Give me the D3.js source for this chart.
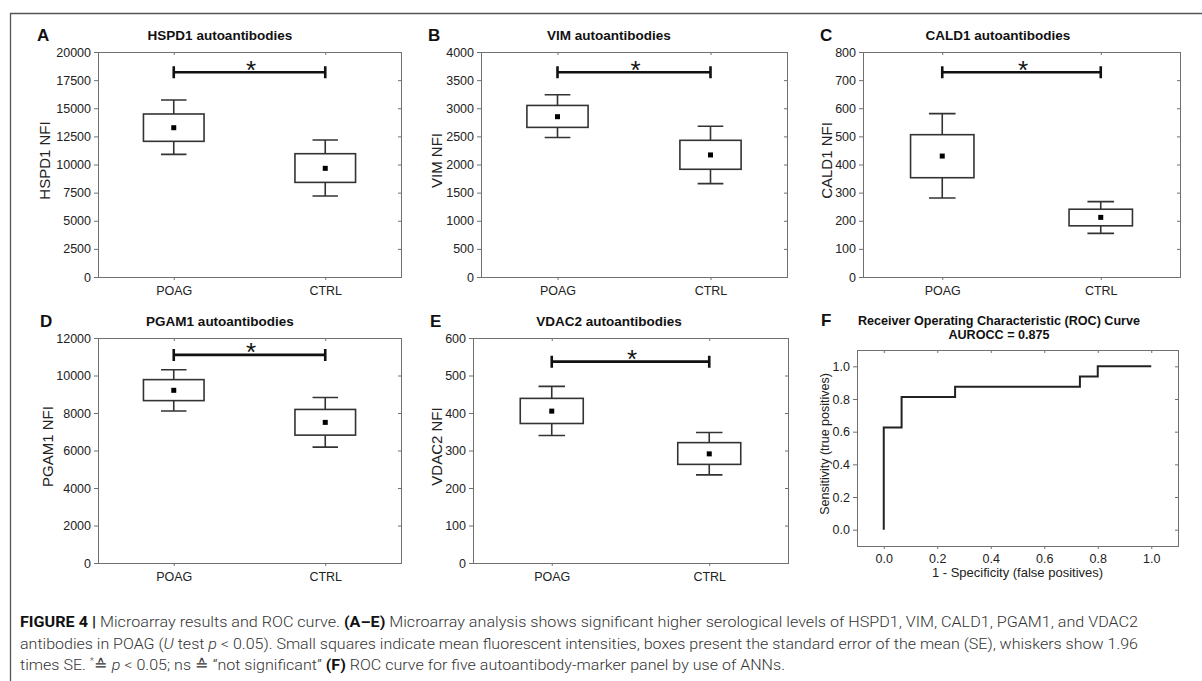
<!DOCTYPE html>
<html>
<head>
<meta charset="utf-8">
<title>Figure 4</title>
<script src="https://d3js.org/d3.v7.min.js"></script>
<style>
  body { margin: 0; background: #fff; }
  svg { display: block; font-family: "Liberation Sans", Arial, sans-serif; }
</style>
</head>
<body>
<svg width="1202" height="681"></svg>
<script>

const groups = ['POAG', 'CTRL'];

// each row: [whisker low, box low, mean, box high, whisker high]
const hspd1Poag = [10900, 12060, 13270, 14490, 15730];
const hspd1Ctrl = [7200, 8410, 9660, 10960, 12180];
const vimPoag = [2480, 2660, 2850, 3050, 3240];
const vimCtrl = [1660, 1915, 2170, 2430, 2680];
const cald1Poag = [281, 353, 430, 506, 581];
const cald1Ctrl = [155, 182, 212, 241, 268];
const pgam1Poag = [8110, 8660, 9210, 9780, 10310];
const pgam1Ctrl = [6180, 6820, 7500, 8190, 8830];
const vdac2Poag = [340, 372, 405, 439, 471];
const vdac2Ctrl = [235, 263, 291, 321, 348];

// height of the significance bar in each panel
const sigLevels = [18200, 3640, 728, 11100, 537];

const hspd1Ticks = [0, 2500, 5000, 7500, 10000, 12500, 15000, 17500, 20000];
const vimTicks = [0, 500, 1000, 1500, 2000, 2500, 3000, 3500, 4000];
const cald1Ticks = [0, 100, 200, 300, 400, 500, 600, 700, 800];
const pgam1Ticks = [0, 2000, 4000, 6000, 8000, 10000, 12000];
const vdac2Ticks = [0, 100, 200, 300, 400, 500, 600];

// ROC curve corners (step after)
const rocFpr = [0, 0, 0.0667, 0.2667, 0.7333, 0.8, 1.0];
const rocTpr = [0, 0.625, 0.8125, 0.875, 0.9375, 1.0, 1.0];
const rocTicks = [0, 0.2, 0.4, 0.6, 0.8, 1.0];

const svg = d3.select('svg');

// outer figure frame (top + left visible)
svg.append('path')
  .attr('d', 'M10.5,681 V13.5 H1202')
  .attr('fill', 'none')
  .attr('stroke', '#555')
  .attr('stroke-width', 1.3);

const panels = [
  {key: 'A', title: 'HSPD1 autoantibodies', ylab: 'HSPD1 NFI', rows: [hspd1Poag, hspd1Ctrl], ticks: hspd1Ticks, sig: sigLevels[0],
   x0: 98, x1: 401, y0: 52, y1: 277, lx: 37, tx: 220, ty: 40, yl: 50},
  {key: 'B', title: 'VIM autoantibodies', ylab: 'VIM NFI', rows: [vimPoag, vimCtrl], ticks: vimTicks, sig: sigLevels[1],
   x0: 481, x1: 787, y0: 52, y1: 277, lx: 428, tx: 609, ty: 40, yl: 442},
  {key: 'C', title: 'CALD1 autoantibodies', ylab: 'CALD1 NFI', rows: [cald1Poag, cald1Ctrl], ticks: cald1Ticks, sig: sigLevels[2],
   x0: 863, x1: 1180, y0: 52, y1: 277, lx: 820, tx: 998, ty: 40, yl: 832},
  {key: 'D', title: 'PGAM1 autoantibodies', ylab: 'PGAM1 NFI', rows: [pgam1Poag, pgam1Ctrl], ticks: pgam1Ticks, sig: sigLevels[3],
   x0: 98, x1: 401, y0: 338, y1: 563, lx: 40, tx: 220, ty: 326, yl: 53},
  {key: 'E', title: 'VDAC2 autoantibodies', ylab: 'VDAC2 NFI', rows: [vdac2Poag, vdac2Ctrl], ticks: vdac2Ticks, sig: sigLevels[4],
   x0: 473, x1: 788, y0: 338, y1: 563, lx: 430, tx: 609, ty: 326, yl: 442}
];

const frameColor = '#707070';
const lineColor = '#333';

function frame(g, p) {
  g.append('rect')
    .attr('x', p.x0 + 0.5).attr('y', p.y0 + 0.5)
    .attr('width', p.x1 - p.x0).attr('height', p.y1 - p.y0)
    .attr('fill', 'none')
    .attr('stroke', frameColor);
}

function styleAxis(sel) {
  sel.select('.domain').remove();
  sel.selectAll('.tick line').attr('stroke', frameColor);
  sel.selectAll('.tick text').attr('fill', '#222').style('font-size', '12.5px');
}

function boxPanel(p) {
  const g = svg.append('g');
  const x = d3.scalePoint().domain(groups).range([p.x0 + (p.x1 - p.x0) * 0.25, p.x0 + (p.x1 - p.x0) * 0.75]);
  const y = d3.scaleLinear().domain([0, d3.max(p.ticks)]).range([p.y1, p.y0]);
  const bw = (p.x1 - p.x0) * 0.2;
  const cw = bw * 0.42;

  frame(g, p);

  g.append('g').attr('transform', `translate(${p.x0},0)`)
    .call(d3.axisLeft(y).tickValues(p.ticks).tickSize(4).tickPadding(3).tickFormat(d3.format('d')))
    .call(styleAxis);
  g.append('g').attr('transform', `translate(${p.x1},0)`)
    .call(d3.axisLeft(y).tickValues(p.ticks).tickSize(3).tickFormat(''))
    .call(styleAxis);
  g.append('g').attr('transform', `translate(0,${p.y1})`)
    .call(d3.axisBottom(x).tickSize(3).tickPadding(6))
    .call(styleAxis);
  g.append('g').attr('transform', `translate(0,${p.y0})`)
    .call(d3.axisBottom(x).tickSize(3).tickFormat(''))
    .call(styleAxis);

  const box = g.selectAll('g.box')
    .data(p.rows.map((r, i) => ({g: groups[i], r})))
    .enter().append('g').classed('box', true);

  // whiskers
  box.append('path')
    .attr('d', d => `M${x(d.g)},${y(d.r[0])}V${y(d.r[1])}M${x(d.g)},${y(d.r[3])}V${y(d.r[4])}` +
      `M${x(d.g) - cw / 2},${y(d.r[0])}h${cw}M${x(d.g) - cw / 2},${y(d.r[4])}h${cw}`)
    .attr('fill', 'none').attr('stroke', lineColor).attr('stroke-width', 1.6);
  box.append('rect')
    .attr('x', d => x(d.g) - bw / 2)
    .attr('y', d => y(d.r[3]))
    .attr('width', bw)
    .attr('height', d => y(d.r[1]) - y(d.r[3]))
    .attr('fill', '#fff').attr('stroke', lineColor).attr('stroke-width', 1.6);
  box.append('rect')
    .attr('x', d => x(d.g) - 2.5)
    .attr('y', d => y(d.r[2]) - 2.5)
    .attr('width', 5).attr('height', 5)
    .attr('fill', '#000');

  // significance bar
  const sy = y(p.sig);
  g.append('path')
    .attr('d', `M${x('POAG')},${sy}H${x('CTRL')}M${x('POAG')},${sy - 6}v12M${x('CTRL')},${sy - 6}v12`)
    .attr('fill', 'none').attr('stroke', '#111').attr('stroke-width', 2.6);
  g.append('text')
    .attr('x', (x('POAG') + x('CTRL')) / 2 + 1.5)
    .attr('y', sy + 6.5)
    .attr('text-anchor', 'middle')
    .style('font-size', '26px')
    .attr('fill', '#111')
    .text('*');

  labels(g, p);
}

function labels(g, p) {
  g.append('text')
    .attr('x', p.lx).attr('y', p.ty + 1)
    .style('font-size', '17px').style('font-weight', 'bold')
    .attr('fill', '#111')
    .text(p.key);
  if (p.title) {
    g.append('text')
      .attr('x', p.tx).attr('y', p.ty)
      .attr('text-anchor', 'middle')
      .style('font-size', '13.5px').style('font-weight', 'bold')
      .attr('fill', '#111')
      .text(p.title);
  }
  g.append('text')
    .attr('transform', `translate(${p.yl},${(p.y0 + p.y1) / 2 - 4}) rotate(-90)`)
    .attr('text-anchor', 'middle')
    .style('font-size', p.ylSize || '15px')
    .attr('fill', '#222')
    .text(p.ylab);
}

panels.forEach(boxPanel);

// panel F: ROC curve
(function () {
  const p = {key: 'F', ylab: 'Sensitivity (true positives)', x0: 857, x1: 1178, y0: 350, y1: 546,
    lx: 821, ty: 325, yl: 829, ylSize: '12.5px'};
  const g = svg.append('g');
  const x = d3.scaleLinear().domain([-0.1, 1.1]).range([p.x0, p.x1]);
  const y = d3.scaleLinear().domain([-0.1, 1.1]).range([p.y1, p.y0]);

  frame(g, p);
  g.append('g').attr('transform', `translate(${p.x0},0)`)
    .call(d3.axisLeft(y).tickValues(rocTicks).tickSize(4).tickPadding(3).tickFormat(d3.format('.1f')))
    .call(styleAxis);
  g.append('g').attr('transform', `translate(${p.x1},0)`)
    .call(d3.axisLeft(y).tickValues(rocTicks).tickSize(3).tickFormat(''))
    .call(styleAxis);
  g.append('g').attr('transform', `translate(0,${p.y1})`)
    .call(d3.axisBottom(x).tickValues(rocTicks).tickSize(3).tickPadding(5).tickFormat(d3.format('.1f')))
    .call(styleAxis);
  g.append('g').attr('transform', `translate(0,${p.y0})`)
    .call(d3.axisBottom(x).tickValues(rocTicks).tickSize(3).tickFormat(''))
    .call(styleAxis);

  const line = d3.line()
    .x(d => x(d[0]))
    .y(d => y(d[1]))
    .curve(d3.curveStepAfter);
  g.append('path')
    .datum(d3.zip(rocFpr, rocTpr))
    .attr('d', line)
    .attr('fill', 'none').attr('stroke', '#222').attr('stroke-width', 2);

  labels(g, p);
  g.append('text')
    .attr('x', 999).attr('y', 325)
    .attr('text-anchor', 'middle')
    .style('font-size', '12.6px').style('font-weight', 'bold')
    .attr('fill', '#111')
    .text('Receiver Operating Characteristic (ROC) Curve');
  g.append('text')
    .attr('x', 999).attr('y', 338.5)
    .attr('text-anchor', 'middle')
    .style('font-size', '12.6px').style('font-weight', 'bold')
    .attr('fill', '#111')
    .text('AUROCC = 0.875');
  g.append('text')
    .attr('x', (p.x0 + p.x1) / 2).attr('y', 577)
    .attr('text-anchor', 'middle')
    .style('font-size', '13px')
    .attr('fill', '#222')
    .text('1 - Specificity (false positives)');
})();

// caption
const caption = [
  [['FIGURE 4 | ', 'b'], ['Microarray results and ROC curve. ', ''], ['(A–E)', 'b'],
   [' Microarray analysis shows significant higher serological levels of HSPD1, VIM, CALD1, PGAM1, and VDAC2', '']],
  [['antibodies in POAG (', ''], ['U', 'i'], [' test ', ''], ['p', 'i'],
   [' < 0.05). Small squares indicate mean fluorescent intensities, boxes present the standard error of the mean (SE), whiskers show 1.96', '']],
  [['times SE. ', ''], ['*', 'sup'], ['≙ ', 'down'], ['p', 'i'], [' < 0.05; ns ≙ “not significant” ', ''], ['(F)', 'b'],
   [' ROC curve for five autoantibody-marker panel by use of ANNs.', '']]
];
const captionWidths = [1118, 1118, 765];

caption.forEach((parts, i) => {
  const t = svg.append('text')
    .attr('x', 20).attr('y', 627 + i * 21.5)
    .attr('textLength', captionWidths[i])
    .attr('lengthAdjust', 'spacingAndGlyphs')
    .style('font-family', 'Roboto, "Liberation Sans", sans-serif')
    .style('font-size', '15px')
    .style('font-weight', 300)
    .attr('fill', '#333');
  parts.forEach(([s, k]) => {
    const ts = t.append('tspan').text(s);
    if (k === 'b') ts.style('font-weight', 'bold').attr('fill', '#111');
    if (k === 'i') ts.style('font-style', 'italic');
    if (k === 'sup') ts.style('font-size', '9px').attr('dy', -6);
    if (k === 'down') ts.attr('dy', 6);
  });
});

</script>
</body>
</html>
